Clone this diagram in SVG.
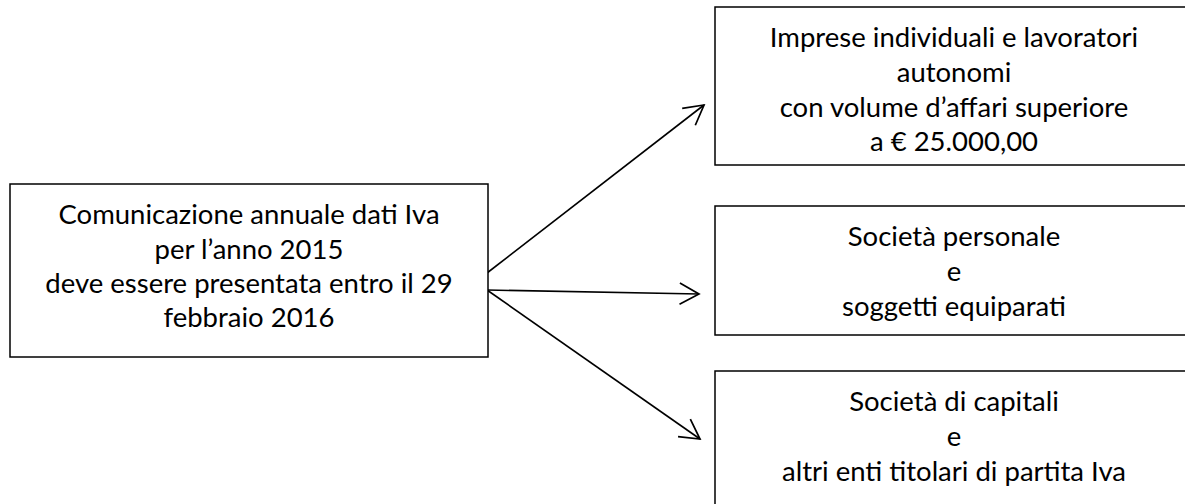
<svg xmlns="http://www.w3.org/2000/svg" width="1185" height="504" viewBox="0 0 1185 504">
<style>
.box{fill:#fff;stroke:#000;stroke-width:1.5}
.t{font-family:Lato,"Open Sans","Liberation Sans",sans-serif;font-size:27.5px;fill:#000;text-anchor:middle}
.c{stroke:#000;stroke-width:1.6;fill:none}
</style>
<defs>
<marker id="ah" markerUnits="userSpaceOnUse" markerWidth="30" markerHeight="30" viewBox="-24 -12 28 24" refX="0" refY="0" orient="auto">
<path d="M-18,-10 L0,0 L-18,10" fill="none" stroke="#000" stroke-width="1.6"/>
</marker>
</defs>
<rect width="1185" height="504" fill="#fff"/>
<g id="connectors">
<line class="c" x1="487" y1="273" x2="704" y2="105" marker-end="url(#ah)"/>
<line class="c" x1="487" y1="290" x2="699" y2="294" marker-end="url(#ah)"/>
<line class="c" x1="487" y1="290" x2="700" y2="439" marker-end="url(#ah)"/>
</g>
<g id="node-main">
<rect class="box" x="10" y="184" width="478" height="173"/>
<text class="t" x="249" y="224">Comunicazione annuale dati Iva</text>
<text class="t" x="249" y="259">per l’anno 2015</text>
<text class="t" x="249" y="293">deve essere presentata entro il 29</text>
<text class="t" x="249" y="327">febbraio 2016</text>
</g>
<g id="node-imprese">
<rect class="box" x="715" y="7" width="478" height="158"/>
<text class="t" x="954" y="47">Imprese individuali e lavoratori</text>
<text class="t" x="954" y="82">autonomi</text>
<text class="t" x="954" y="117">con volume d’affari superiore</text>
<text class="t" x="954" y="151">a € 25.000,00</text>
</g>
<g id="node-persone">
<rect class="box" x="715" y="206" width="478" height="129"/>
<text class="t" x="954" y="246">Società personale</text>
<text class="t" x="954" y="281">e</text>
<text class="t" x="954" y="316">soggetti equiparati</text>
</g>
<g id="node-capitali">
<rect class="box" x="715" y="371" width="478" height="150"/>
<text class="t" x="954" y="411">Società di capitali</text>
<text class="t" x="954" y="446">e</text>
<text class="t" x="954" y="481">altri enti titolari di partita Iva</text>
</g>
</svg>
